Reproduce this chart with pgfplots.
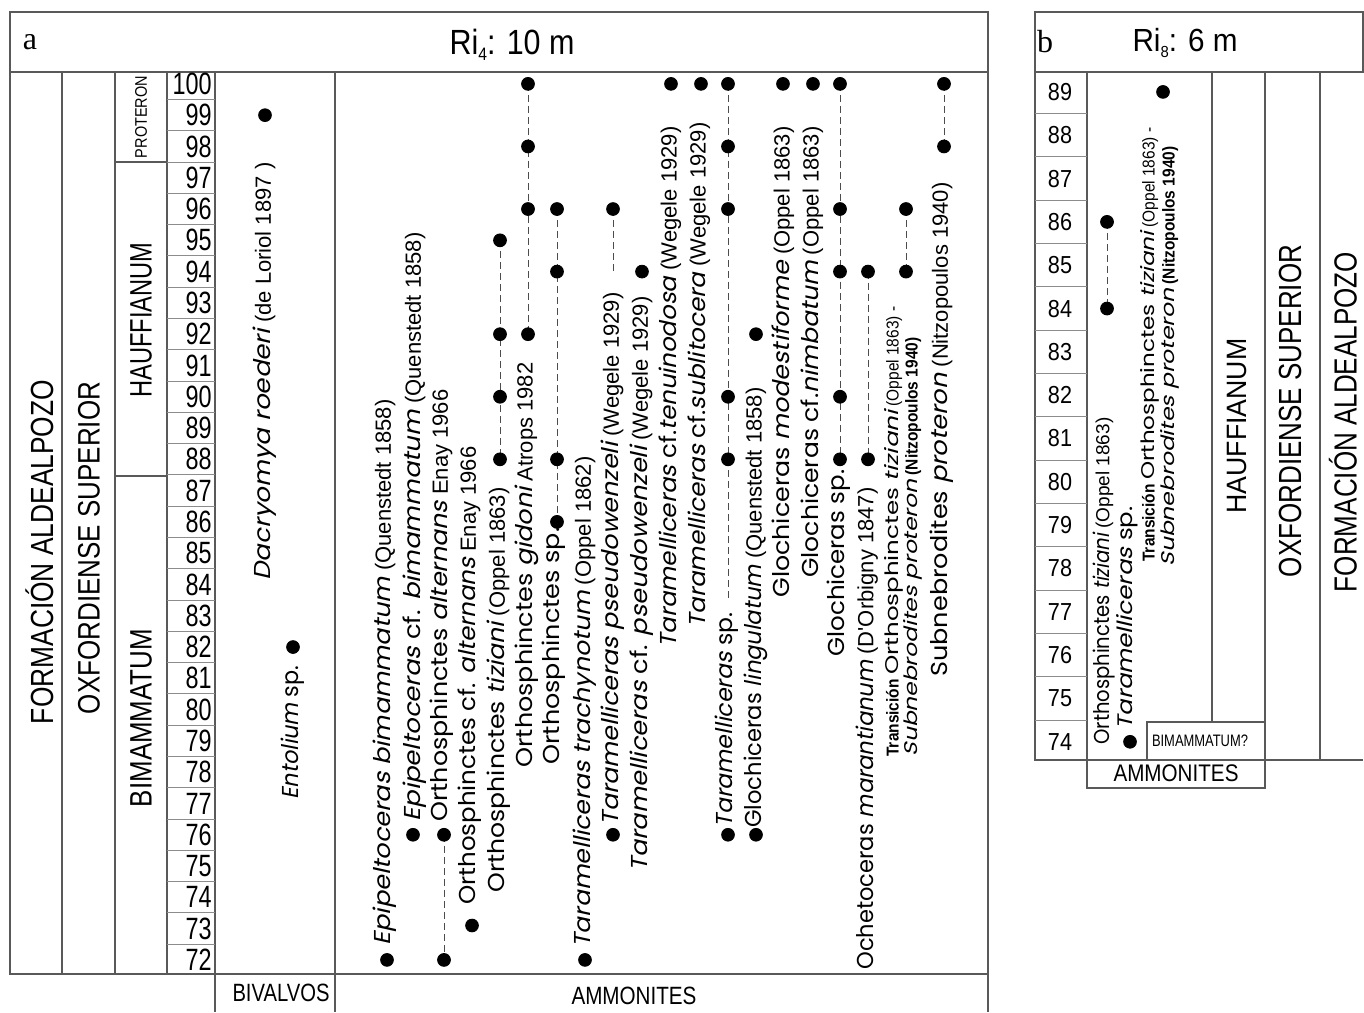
\documentclass[border=0pt]{standalone}
\usepackage{pgfplots}
\pgfplotsset{compat=1.18}
\usepackage{graphicx}
\usepackage{fontspec}
\setmainfont{Liberation Sans}
\newfontfamily\nar{Liberation Sans}[FakeStretch=0.82]
\newfontfamily\naa{Liberation Sans}[FakeStretch=0.9]
\newfontfamily\lsans{Liberation Sans}
\newfontfamily\narnum{Liberation Sans}[FakeStretch=0.76]
\newfontfamily\narnumb{Liberation Sans}[FakeStretch=0.88]
\newfontfamily\gth{Poppins}
\newfontfamily\gthsl{Poppins}[FakeSlant=0.2]
\newfontfamily\tms{Liberation Serif}
\newcommand{\I}[1]{{\gthsl #1}}
\newcommand{\U}[1]{{\gth #1}}
\newcommand{\au}[1]{{\fontsize{11}{11}\selectfont\lsans #1}}
\newcommand{\aus}[1]{{\fontsize{8.6}{8.6}\selectfont\naa #1}}
\newcommand{\aub}[1]{{\fontsize{8.6}{8.6}\selectfont\naa\bfseries #1}}
\newcommand{\aum}[1]{{\fontsize{9.5}{9.5}\selectfont\lsans #1}}
\newlength\authw \newlength\gw
% species label: x, start y (px), total length, gothic size, prefix, gothic text, suffix
\newcommand{\labx}[7]{\node[rotate=90,anchor=west,inner sep=0pt] at (axis cs:#1,#2) {\settowidth{\authw}{#5#7}\setlength{\gw}{\dimexpr #3-\authw\relax}#5\resizebox{\gw}{\height}{\fontsize{#4}{#4}\selectfont #6}#7};}
% centred rotated heading: x, centre y, length, font size, text
\newcommand{\head}[5]{\node[rotate=90,inner sep=0pt,font=\fontsize{#4}{#4}\selectfont\nar] at (axis cs:#1,#2) {\resizebox{#3}{\height}{#5}};}
% horizontal text: x, y, length, size, text
\newcommand{\htext}[5]{\node[inner sep=0pt,font=\fontsize{#4}{#4}\selectfont\nar] at (axis cs:#1,#2) {\resizebox{#3}{\height}{#5}};}
\pgfplotsset{
  frame/.style={hide axis, clip=false, scale only axis, anchor=south west, width=682pt, xmin=0, xmax=1364},
  dot/.style={only marks, mark=*, mark size=3.2pt, black},
  rng/.style={draw=black!70, line width=0.45pt, dash pattern=on 3.5pt off 2pt, mark=*, mark size=3.2pt, mark options={solid, fill=black, draw=black}},
  tail/.style={draw=black!70, line width=0.45pt, dash pattern=on 3.5pt off 2pt, no markers},
}
\tikzset{frm/.style={draw=black!65, line width=0.55pt}, sep/.style={draw=black!45, line width=0.5pt}}
\begin{document}
\begin{tikzpicture}
\useasboundingbox (0,0) rectangle (682pt,506pt);
% ---------- frame (pixel coordinates) ----------
\begin{axis}[frame, at={(0pt,0pt)}, height=506pt, ymin=0, ymax=1012, y dir=reverse]
% panel a
\draw[frm] (10,12) rectangle (988,72);
\draw[frm] (10,72) -- (10,974) -- (988,974);
\draw[frm] (62,72) -- (62,974);
\draw[frm] (115,72) -- (115,974);
\draw[frm] (167,72) -- (167,974);
\draw[frm] (215,72) -- (215,1012);
\draw[frm] (335,72) -- (335,1012);
\draw[frm] (988,72) -- (988,1012);
\draw[frm] (115,162) -- (167,162);
\draw[frm] (115,476) -- (167,476);
\node[inner sep=0pt,font=\fontsize{16}{16}\selectfont\tms] at (30,42) {a};
\node[inner sep=0pt,font=\fontsize{17.5}{17.5}\selectfont\nar] at (512,45) {\resizebox{62.5pt}{\height}{Ri\raisebox{-0.35ex}{\fontsize{9}{9}\selectfont 4}: 10 m}};
\head{40}{552}{172pt}{16}{FORMACIÓN ALDEALPOZO}
\head{89}{548}{166pt}{15.5}{OXFORDIENSE SUPERIOR}
\head{141}{320}{77.5pt}{15.5}{HAUFFIANUM}
\head{141}{718}{89pt}{15.5}{BIMAMMATUM}
\head{141}{117}{41pt}{8.4}{PROTERON}
\htext{281}{993}{48.5pt}{12.5}{BIVALVOS}
\htext{634}{996}{62.5pt}{12.5}{AMMONITES}
% species labels, panel a
\labx{265}{581}{209pt}{11.5}{}{\I{Dacryomya roederi}}{\au{\ (de Loriol 1897 )}}
\labx{293}{800}{67pt}{11.5}{}{\I{Entolium} \U{sp.}}{}
\labx{385}{946}{273pt}{11.5}{}{\I{Epipeltoceras bimammatum}}{\au{\ (Quenstedt 1858)}}
\labx{415}{822}{294.5pt}{11.5}{}{\I{Epipeltoceras}\U{ cf. }\I{bimammatum}}{\au{\ (Quenstedt 1858)}}
\labx{442}{822}{216pt}{11.5}{}{\U{Orthosphinctes }\I{alternans}}{\au{\ Enay 1966}}
\labx{470}{905}{229pt}{11.5}{}{\U{Orthosphinctes cf. }\I{alternans}}{\au{\ Enay 1966}}
\labx{499}{893}{202.5pt}{11.5}{}{\U{Orthosphinctes }\I{tiziani}}{\au{\ (Oppel 1863)}}
\labx{527}{768}{202.5pt}{11.5}{}{\U{Orthosphinctes }\I{gidoni}}{\au{\ Atrops 1982}}
\labx{554}{765}{118.5pt}{11.5}{}{\U{Orthosphinctes sp.}}{}
\labx{585}{948}{245.5pt}{11.5}{}{\I{Taramelliceras trachynotum}}{\au{\ (Oppel 1862)}}
\labx{613}{826}{266.5pt}{11.5}{}{\I{Taramelliceras pseudowenzeli}}{\au{\ (Wegele 1929)}}
\labx{642}{872}{287.5pt}{11.5}{}{\I{Taramelliceras} \U{cf. }\I{pseudowenzeli}}{\au{\ (Wegele 1929)}}
\labx{670}{648}{260.5pt}{11.5}{}{\I{Taramelliceras} \U{cf.}\I{tenuinodosa}}{\au{\ (Wegele 1929)}}
\labx{699}{628}{252.5pt}{11.5}{}{\I{Taramelliceras} \U{cf.}\I{sublitocera}}{\au{\ (Wegele 1929)}}
\labx{727}{828}{107.5pt}{11.5}{}{\I{Taramelliceras} \U{sp.}}{}
\labx{756}{828}{220pt}{11.5}{}{\U{Glochiceras }\I{lingulatum}}{\au{\ (Quenstedt 1858)}}
\labx{783}{598}{235.5pt}{11.5}{}{\U{Glochiceras }\I{modestiforme}}{\au{\ (Oppel 1863)}}
\labx{812}{578}{225.5pt}{11.5}{}{\U{Glochiceras cf.}\I{nimbatum}}{\au{\ (Oppel 1863)}}
\labx{839}{657}{93.5pt}{11.5}{}{\U{Glochiceras sp.}}{}
\labx{867}{970}{241pt}{11.5}{}{\U{Ochetoceras }\I{marantianum}}{\au{\ (D'Orbigny 1847)}}
\labx{894}{757}{225pt}{9.2}{\aub{Transición\ }}{\U{Orthosphinctes }\I{tiziani}}{\aus{\ (Oppel 1863) -}}
\labx{913}{757}{209.5pt}{9.2}{}{\I{Subnebrodites proteron}}{\aub{\ (Nitzopoulos 1940)}}
\labx{942}{677}{247pt}{11.5}{}{\U{Subnebrodites }\I{proteron}}{\au{\ (Nitzopoulos 1940)}}
% panel b
\draw[frm] (1035,12) rectangle (1363,72);
\draw[frm] (1035,72) -- (1035,760) -- (1363,760);
\draw[frm] (1087,72) -- (1087,788) -- (1265,788) -- (1265,72);
\draw[frm] (1212,72) -- (1212,722);
\draw[frm] (1147,760) -- (1147,722) -- (1265,722);
\draw[frm] (1320,72) -- (1320,760);
\node[inner sep=0pt,font=\fontsize{16}{16}\selectfont\tms] at (1045,42) {b};
\node[inner sep=0pt,font=\fontsize{16}{16}\selectfont\nar] at (1185,43) {\resizebox{52.5pt}{\height}{Ri\raisebox{-0.35ex}{\fontsize{8}{8}\selectfont 8}: 6 m}};
\head{1237}{426}{87.5pt}{14}{HAUFFIANUM}
\head{1290}{411}{166pt}{16}{OXFORDIENSE SUPERIOR}
\head{1343}{422}{170pt}{16}{FORMACIÓN ALDEALPOZO}
\htext{1200}{741}{48pt}{8.3}{BIMAMMATUM?}
\htext{1176}{773}{62.5pt}{12}{AMMONITES}
\labx{1104}{745}{163.5pt}{10.8}{}{\U{Orthosphinctes }\I{tiziani}}{\aum{\ (Oppel 1863)}}
\labx{1127}{730}{111.5pt}{10.5}{}{\I{Taramelliceras} \U{sp.}}{}
\labx{1150}{562}{217pt}{9.2}{\aub{Transición\ }}{\U{Orthosphinctes }\I{tiziani}}{\aus{\ (Oppel 1863) -}}
\labx{1170}{567}{210pt}{9.2}{}{\I{Subnebrodites proteron}}{\aub{\ (Nitzopoulos 1940)}}
\end{axis}
% ---------- panel a data: x = column position, y = level ----------
\begin{axis}[frame, at={(0pt,19pt)}, height=451pt, ymin=71.55, ymax=100.38]
\pgfplotsinvokeforeach{72.5,73.5,...,99.5}{\draw[sep] (axis cs:167,#1) -- (axis cs:215,#1);}
\pgfplotsinvokeforeach{72,...,100}{\node[anchor=east,inner sep=0pt,font=\fontsize{15.4}{15.4}\selectfont\narnum] at (axis cs:212,#1) {#1};}
% bivalves
\addplot[dot] coordinates {(265,99)};
\addplot[dot] coordinates {(293,82)};
% ammonites
\addplot[dot] coordinates {(387,72)};
\addplot[dot] coordinates {(413,76)};
\addplot[rng] coordinates {(444,76) (444,72)};
\addplot[dot] coordinates {(472,73.1)};
\addplot[rng] coordinates {(500,95) (500,92) (500,90) (500,88)};
\addplot[rng] coordinates {(528,100) (528,98) (528,96) (528,92)};
\addplot[rng] coordinates {(557,96) (557,94) (557,88) (557,86)};
\addplot[dot] coordinates {(585,72)};
\addplot[tail] coordinates {(613,96) (613,93.95)};
\addplot[dot] coordinates {(613,96) (613,76)};
\addplot[dot] coordinates {(642,94)};
\addplot[dot] coordinates {(671,100)};
\addplot[dot] coordinates {(701,100)};
\addplot[rng] coordinates {(728,100) (728,98) (728,96) (728,90) (728,88)};
\addplot[tail] coordinates {(728,88) (728,83.5)};
\addplot[dot] coordinates {(728,76)};
\addplot[dot] coordinates {(756,92) (756,76)};
\addplot[dot] coordinates {(783,100)};
\addplot[dot] coordinates {(813,100)};
\addplot[rng] coordinates {(840,100) (840,96) (840,94) (840,90) (840,88)};
\addplot[rng] coordinates {(868,94) (868,88)};
\addplot[rng] coordinates {(906,96) (906,94)};
\addplot[rng] coordinates {(944,100) (944,98)};
\end{axis}
% ---------- panel b data ----------
\begin{axis}[frame, at={(0pt,126pt)}, height=344pt, ymin=73.58, ymax=89.46]
\pgfplotsinvokeforeach{74.5,75.5,...,88.5}{\draw[sep] (axis cs:1035,#1) -- (axis cs:1087,#1);}
\pgfplotsinvokeforeach{74,...,89}{\node[inner sep=0pt,font=\fontsize{12.3}{12.3}\selectfont\narnumb] at (axis cs:1060,#1) {#1};}
\addplot[rng] coordinates {(1107,86) (1107,84)};
\addplot[dot] coordinates {(1130,74)};
\addplot[dot] coordinates {(1163,89)};
\end{axis}
\end{tikzpicture}
\end{document}
